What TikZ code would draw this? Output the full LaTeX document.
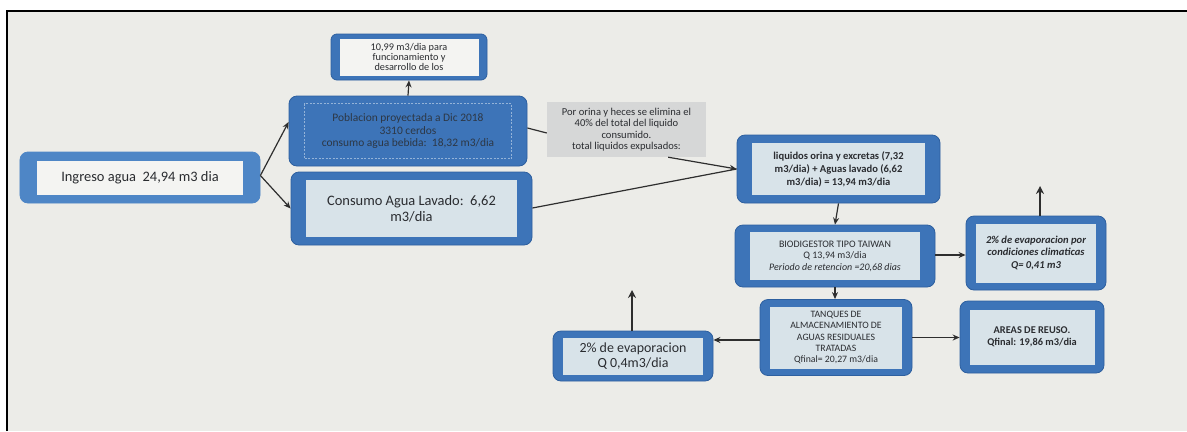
\documentclass[tikz,border=0pt]{standalone}
\usepackage{fontspec}
\setmainfont{Carlito}
\usetikzlibrary{arrows.meta,calc}
\definecolor{bgc}{HTML}{ECECE8}
\definecolor{bluec}{HTML}{3D74B8}
\definecolor{bluelt}{HTML}{4E86C6}
\definecolor{bluedk}{HTML}{2D5F9F}
\definecolor{lightc}{HTML}{D8E3E9}
\definecolor{whitec}{HTML}{F4F4F2}
\definecolor{greyc}{HTML}{D6D7D7}
\definecolor{txt}{HTML}{2A2C30}
\definecolor{arr}{HTML}{2E2E2E}
\tikzset{
  outerbox/.style={fill=bluec, draw=bluedk, line width=0.8bp, rounded corners=8bp, inner sep=0pt},
  inbox/.style={fill=lightc, inner sep=0pt, align=center, text=txt},
  conn/.style={draw=arr, line width=1.2bp},
  arrowc/.style={conn, -{Stealth[length=7bp,width=6bp]}},
  evaparrow/.style={draw=arr, line width=2.6bp, -{Stealth[length=8bp,width=8bp]}},
}
\newcommand{\fs}[2]{\fontsize{#1}{#2}\selectfont}
\begin{document}
\begin{tikzpicture}[x=1bp,y=-1bp]
\useasboundingbox (0,0) rectangle (1187,431);
\fill[white] (0,0) rectangle (1187,431);
\fill[bgc] (7,11) rectangle (1187,431);
\draw[line width=2.2bp] (7,431) -- (7,11) -- (1187,11);

% Ingreso
\node[outerbox, fill=bluelt, draw=bluelt, minimum width=240bp, minimum height=51bp] (ing) at (140,177.5) {};
\node[inbox, fill=whitec, minimum width=206bp, minimum height=34bp, font=\fs{14.5}{16}] (ingt) at (ing.center) {Ingreso agua\ \ 24,94 m3 dia};

% Poblacion
\node[outerbox, minimum width=238bp, minimum height=70bp] (pob) at (408,131) {};
\node[inbox, fill=none, draw=white!45!bluec, dashed, dash pattern=on 2bp off 1.5bp, line width=0.6bp, minimum width=207bp, minimum height=55bp, font=\fs{11.5}{12.2}, text=txt!85!bluec] (pobt) at (pob.center) {Poblacion proyectada a Dic 2018\\3310 cerdos\\consumo agua bebida:\ \ 18,32 m3/dia};

% 10,99
\node[outerbox, minimum width=156bp, minimum height=46bp, rounded corners=6bp] (dies) at (409,57) {};
\node[inbox, fill=whitec, minimum width=139bp, minimum height=37bp, font=\fs{10.3}{10.5}] (diest) at (dies.center) {10,99 m3/dia para\\funcionamiento y\\desarrollo de los};

% Consumo agua lavado
\node[outerbox, minimum width=241bp, minimum height=73bp] (cons) at (411.5,208.5) {};
\node[inbox, minimum width=211bp, minimum height=57bp, font=\fs{14.5}{16}] (const) at (cons.center) {Consumo Agua Lavado:\ \ 6,62\\m3/dia};

% Grey note
\node[fill=greyc, inner sep=0pt, align=center, text=txt, minimum width=159bp, minimum height=55bp, font=\fs{10.6}{11.4}] (grey) at (626.5,129.5) {Por orina y heces se elimina el\\40\% del total del liquido\\consumido.\\total liquidos expulsados:};

% Liquidos
\node[outerbox, minimum width=203bp, minimum height=68bp] (liq) at (838.5,169) {};
\node[inbox, minimum width=173bp, minimum height=52bp, font=\bfseries\fs{10.6}{13}] (liqt) at (liq.center) {liquidos orina y excretas (7,32\\m3/dia) + Aguas lavado (6,62\\m3/dia) = 13,94 m3/dia};

% Biodigestor
\node[outerbox, minimum width=200bp, minimum height=62bp] (bio) at (835,256) {};
\node[inbox, minimum width=170bp, minimum height=48bp, font=\fs{10}{11.5}] (biot) at (bio.center) {BIODIGESTOR TIPO TAIWAN\\Q 13,94 m3/dia\\\textit{Periodo de retencion =20,68 dias}};

% Evaporacion right
\node[outerbox, minimum width=140bp, minimum height=74bp] (evr) at (1036,253) {};
\node[inbox, minimum width=120bp, minimum height=59bp, font=\bfseries\itshape\fs{10.6}{12.5}] (evrt) at (evr.center) {2\% de evaporacion por\\condiciones climaticas\\Q= 0,41 m3};
\coordinate (evrup) at (1040,186);

% Tanques
\node[outerbox, minimum width=152bp, minimum height=76bp] (tan) at (836,337.5) {};
\node[inbox, minimum width=132bp, minimum height=62bp, font=\fs{9.8}{11.5}] (tant) at (tan.center) {TANQUES DE\\ALMACENAMIENTO DE\\AGUAS RESIDUALES\\TRATADAS\\Qfinal= 20,27 m3/dia};

% Evaporacion left
\node[outerbox, minimum width=160bp, minimum height=50bp] (evl) at (633,356) {};
\node[inbox, minimum width=140bp, minimum height=37bp, font=\fs{14}{14.5}] (evlt) at (evl.center) {2\% de evaporacion\\Q 0,4m3/dia};
\coordinate (evlup) at (632,290);

% Areas de reuso
\node[outerbox, minimum width=144bp, minimum height=72bp] (are) at (1032,337) {};
\node[inbox, minimum width=125bp, minimum height=55bp, font=\bfseries\fs{10.4}{12.5}] (aret) at (are.center) {AREAS DE REUSO.\\Qfinal: 19,86 m3/dia};

% Connectors
\coordinate (fork) at ($(ing.east)+(0,-2)$);
\draw[arrowc] (fork) -- ($(pob.west)+(0,-9)$);
\draw[arrowc] (fork) -- (cons.west);
\draw[arrowc] (pob.north) -- (dies.south);
\draw[conn] ($(pob.east)+(0,-3)$) -- ($(grey.west)+(0,3.5)$);
\coordinate (liqin) at (liq.west);
\draw[arrowc] ($(grey.south east)+(-38,0)$) -- (liqin);
\draw[conn] ($(cons.east)+(0,-0.5)$) -- (liqin);
\draw[arrowc] (liq.south) -- (bio.north);
\coordinate (bioout) at ($(bio.east)+(0,-1)$);
\draw[arrowc] (bioout) -- (bioout -| evr.west);
\draw[evaparrow] ($(evr.north)+(4,0)$) -- (evrup);
\draw[arrowc] (bio.south) -- (bio.south |- tan.north);
\coordinate (tanl) at ($(tan.west)+(0,2.5)$);
\draw[arrowc] (tanl) -- (tanl -| evl.east);
\draw[evaparrow] ($(evl.north)+(-1,0)$) -- (evlup);
\draw[arrowc] (tan.east) -- (tan.east -| are.west);
\end{tikzpicture}
\end{document}
